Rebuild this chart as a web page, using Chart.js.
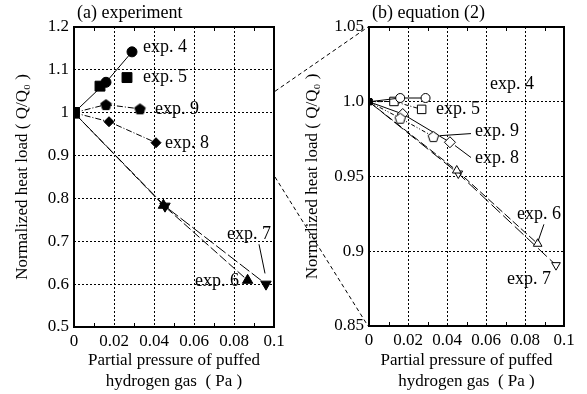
<!DOCTYPE html>
<html lang="en">
<head>
    <meta charset="UTF-8">
    <title>Normalized heat load vs partial pressure</title>
    <script src="https://cdn.jsdelivr.net/npm/chart.js"></script>
    <style>
        body {
            margin: 0;
            background: #fff;
        }
        .wrap {
            position: relative;
            width: 587px;
            height: 394px;
        }
        .panel {
            position: absolute;
            top: 0;
            height: 394px;
        }
        #overlay {
            position: absolute;
            left: 0;
            top: 0;
            pointer-events: none;
        }
    </style>
</head>
<body>
<div class="wrap">
    <div class="panel" style="left:0; width:290px;"><canvas id="chartA"></canvas></div>
    <div class="panel" style="left:290px; width:297px;"><canvas id="chartB"></canvas></div>
    <canvas id="overlay" width="587" height="394"></canvas>
</div>

<script>
    // tick values / labels
    const xTicks = [0, 0.02, 0.04, 0.06, 0.08, 0.1];
    const xTickLabels = ['0', '0.02', '0.04', '0.06', '0.08', '0.1'];
    const yTicksA = [0.5, 0.6, 0.7, 0.8, 0.9, 1.0, 1.1, 1.2];
    const yTickLabelsA = ['0.5', '0.6', '0.7', '0.8', '0.9', '1', '1.1', '1.2'];
    const yTicksB = [0.85, 0.9, 0.95, 1.0, 1.05];
    const yTickLabelsB = ['0.85', '0.9', '0.95', '1.0', '1.05'];

    // (a) experiment
    const expX4 = [0, 0.016, 0.029];
    const expY4 = [1.0, 1.071, 1.142];
    const expX5 = [0, 0.013, 0.0265];
    const expY5 = [1.0, 1.062, 1.082];
    const expX9 = [0, 0.016, 0.033];
    const expY9 = [1.0, 1.019, 1.009];
    const expX8 = [0, 0.0175, 0.041];
    const expY8 = [1.0, 0.979, 0.930];
    const expX6 = [0, 0.0447, 0.0868];
    const expY6 = [1.0, 0.784, 0.609];
    const expX7 = [0, 0.0455, 0.096];
    const expY7 = [1.0, 0.782, 0.600];

    // (b) equation (2)
    const eqX4 = [0, 0.016, 0.029];
    const eqY4 = [1.0, 1.0025, 1.0025];
    const eqX5 = [0, 0.0128, 0.027];
    const eqY5 = [1.0, 1.0002, 0.9949];
    const eqX9 = [0, 0.016, 0.033];
    const eqY9 = [1.0, 0.989, 0.9767];
    const eqX8 = [0, 0.0173, 0.0415];
    const eqY8 = [1.0, 0.9918, 0.9729];
    const eqX6 = [0, 0.045, 0.0865];
    const eqY6 = [1.0, 0.954, 0.905];
    const eqX7 = [0, 0.0458, 0.0959];
    const eqY7 = [1.0, 0.952, 0.8907];

    const FONT = '"Liberation Serif", "Times New Roman", serif';

    function pts(xs, ys) {
        return xs.map((x, i) => ({ x: x, y: ys[i] }));
    }

    // pentagon marker (chart.js has none)
    function pentagon(r, filled) {
        const c = document.createElement('canvas');
        c.width = c.height = Math.ceil(r * 2 + 2);
        const g = c.getContext('2d');
        const m = c.width / 2;
        g.beginPath();
        for (let k = 0; k < 5; k++) {
            const a = -Math.PI / 2 + k * 2 * Math.PI / 5;
            const px = m + r * Math.cos(a), py = m + r * Math.sin(a) + 0.5;
            k ? g.lineTo(px, py) : g.moveTo(px, py);
        }
        g.closePath();
        g.fillStyle = filled ? '#000' : '#fff';
        g.fill();
        g.lineWidth = 1;
        g.strokeStyle = '#000';
        g.stroke();
        return c;
    }

    function series(data, style, radius, dash, filled, originR, extra) {
        return Object.assign({
            data: data,
            showLine: true,
            borderColor: '#000',
            borderWidth: 1,
            borderDash: dash,
            pointStyle: ctx => ctx.dataIndex === 0 ? 'rect' : style,
            pointRadius: ctx => ctx.dataIndex === 0 ? originR : radius,
            pointBackgroundColor: ctx => (ctx.dataIndex === 0 || filled) ? '#000' : '#fff',
            pointBorderColor: '#000',
            pointBorderWidth: 1
        }, extra || {});
    }

    // frame, minor ticks, panel title and labels
    const decor = {
        id: 'decor',
        afterDraw(chart, args, opts) {
            const c = chart.ctx, a = chart.chartArea, sx = chart.scales.x, sy = chart.scales.y;
            c.save();
            c.strokeStyle = '#000';
            c.lineWidth = 1;
            for (let v = 0.01; v < 0.1; v += 0.02) {
                const px = Math.round(sx.getPixelForValue(v)) + 0.5;
                c.beginPath();
                c.moveTo(px, a.top); c.lineTo(px, a.top + 4);
                c.moveTo(px, a.bottom); c.lineTo(px, a.bottom - 4);
                c.stroke();
            }
            c.lineWidth = 2;
            c.strokeRect(a.left, a.top, a.right - a.left, a.bottom - a.top);

            c.fillStyle = '#000';
            c.font = '18px ' + FONT;
            c.textAlign = 'left';
            c.textBaseline = 'middle';
            c.fillText(opts.title, a.left + 3, 13);
            opts.labels.forEach(l => {
                c.fillText(l.text, sx.getPixelForValue(l.x), sy.getPixelForValue(l.y));
            });
            c.lineWidth = 1;
            opts.leaders.forEach(l => {
                c.beginPath();
                c.moveTo(sx.getPixelForValue(l[0]), sy.getPixelForValue(l[1]));
                c.lineTo(sx.getPixelForValue(l[2]), sy.getPixelForValue(l[3]));
                c.stroke();
            });
            c.restore();
        }
    };

    function options(yTicks, yLabels, yWidth, padRight, xHeight, decorOpts) {
        const gridStyle = { color: '#000', lineWidth: 1, drawTicks: false };
        return {
            animation: false,
            responsive: true,
            maintainAspectRatio: false,
            layout: { padding: { left: 0, top: 27, right: padRight, bottom: 0 } },
            plugins: { legend: { display: false }, tooltip: { enabled: false }, decor: decorOpts },
            scales: {
                x: {
                    type: 'linear',
                    min: 0, max: 0.1,
                    afterBuildTicks: s => { s.ticks = xTicks.map(v => ({ value: v })); },
                    afterFit: s => { s.height = xHeight; },
                    ticks: {
                        autoSkip: false, maxRotation: 0, padding: 4, color: '#000',
                        font: { family: FONT, size: 17 },
                        callback: (v, i) => xTickLabels[i]
                    },
                    grid: gridStyle,
                    border: { display: false, dash: [2, 2] },
                    title: {
                        display: true,
                        text: ['Partial pressure of puffed', 'hydrogen gas  ( Pa )'],
                        color: '#000',
                        font: { family: FONT, size: 17, lineHeight: 21 / 17 },
                        padding: { top: 0, bottom: 1.5 }
                    }
                },
                y: {
                    type: 'linear',
                    min: yTicks[0], max: yTicks[yTicks.length - 1],
                    afterBuildTicks: s => { s.ticks = yTicks.map(v => ({ value: v })); },
                    afterFit: s => { s.width = yWidth; },
                    ticks: {
                        autoSkip: false, padding: 5, color: '#000',
                        font: { family: FONT, size: 17 },
                        callback: (v, i) => yLabels[i]
                    },
                    grid: gridStyle,
                    border: { display: false, dash: [2, 2] },
                    title: {
                        display: true,
                        text: 'Normalized heat load ( Q/Q\u2080 )',
                        color: '#000',
                        font: { family: FONT, size: 17 },
                        padding: { top: 12, bottom: 0 }
                    }
                }
            }
        };
    }

    const chartA = new Chart(document.getElementById('chartA'), {
        type: 'scatter',
        data: {
            datasets: [
                series(pts(expX5, expY5), 'rect', 7, [], true, 7, { showLine: false }),
                series(pts(expX4, expY4), 'circle', 5, [], true, 7),
                series(pts(expX9, expY9), pentagon(5.5, true), 5, [6, 2, 1, 2], true, 7),
                series(pts(expX8, expY8), 'rectRot', 5, [6, 2, 1, 2], true, 7),
                series(pts(expX6, expY6), 'triangle', 6, [9, 3], true, 7),
                series(pts(expX7, expY7), 'triangle', 6, [12, 3], true, 7, { pointRotation: ctx => ctx.dataIndex === 0 ? 0 : 180 })
            ]
        },
        options: options(yTicksA, yTickLabelsA, 74, 16, 67, {
            title: '(a) experiment',
            labels: [
                { text: 'exp. 4', x: 0.0345, y: 1.153 },
                { text: 'exp. 5', x: 0.0345, y: 1.083 },
                { text: 'exp. 9', x: 0.0405, y: 1.007 },
                { text: 'exp. 8', x: 0.0455, y: 0.929 },
                { text: 'exp. 7', x: 0.0765, y: 0.717 },
                { text: 'exp. 6', x: 0.0605, y: 0.606 }
            ],
            leaders: [[0.0925, 0.693, 0.0955, 0.625]]
        }),
        plugins: [decor]
    });

    const chartB = new Chart(document.getElementById('chartB'), {
        type: 'scatter',
        data: {
            datasets: [
                series(pts(eqX4, eqY4), 'circle', 4.5, [], false, 4),
                series(pts(eqX5, eqY5), 'rect', 6, [4, 2, 1, 2], false, 4),
                series(pts(eqX9, eqY9), pentagon(5.5, false), 5, [4, 2, 1, 2, 1, 2], false, 4),
                series(pts(eqX8, eqY8), 'rectRot', 5.5, [], false, 4),
                series(pts(eqX6, eqY6), 'triangle', 5, [8, 3], false, 4),
                series(pts(eqX7, eqY7), 'triangle', 5, [12, 4], false, 4, { pointRotation: ctx => ctx.dataIndex === 0 ? 0 : 180 })
            ]
        },
        options: options(yTicksB, yTickLabelsB, 79, 23, 68, {
            title: '(b) equation (2)',
            labels: [
                { text: 'exp. 4', x: 0.062, y: 1.012 },
                { text: 'exp. 5', x: 0.0344, y: 0.9947 },
                { text: 'exp. 9', x: 0.0544, y: 0.980 },
                { text: 'exp. 8', x: 0.0544, y: 0.962 },
                { text: 'exp. 6', x: 0.0759, y: 0.925 },
                { text: 'exp. 7', x: 0.0708, y: 0.881 }
            ],
            leaders: [
                [0.0364, 0.9773, 0.0523, 0.9787],
                [0.0441, 0.9707, 0.0523, 0.9627],
                [0.0897, 0.918, 0.0867, 0.9067]
            ]
        }),
        plugins: [decor]
    });

    // dashed zoom connectors between the two panels
    const ov = document.getElementById('overlay').getContext('2d');
    const offB = 290;
    ov.strokeStyle = '#000';
    ov.lineWidth = 1;
    ov.setLineDash([4, 3]);
    [yTicksB[yTicksB.length - 1], yTicksB[0]].forEach(v => {
        ov.beginPath();
        ov.moveTo(chartA.scales.x.getPixelForValue(0.1) + 1, chartA.scales.y.getPixelForValue(v));
        ov.lineTo(offB + chartB.scales.x.getPixelForValue(0) - 1, chartB.scales.y.getPixelForValue(v));
        ov.stroke();
    });
</script>
</body>
</html>
